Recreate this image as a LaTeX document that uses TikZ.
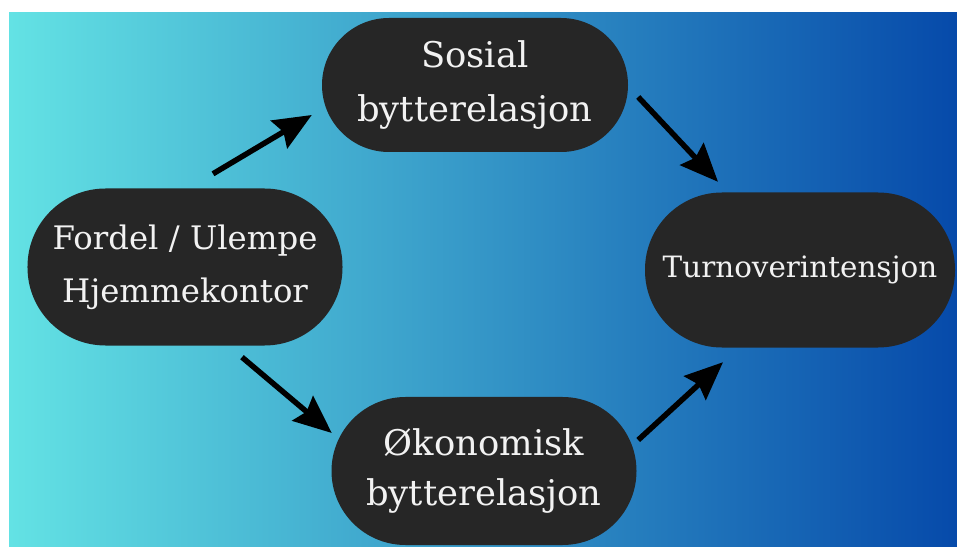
\documentclass[tikz,border=0pt]{standalone}
\usepackage{fontspec}
\setmainfont{DejaVu Serif}
\usetikzlibrary{arrows.meta}
\definecolor{bgleft}{RGB}{99,226,228}
\definecolor{bgright}{RGB}{6,74,170}
\definecolor{pillgray}{RGB}{38,38,38}
\definecolor{pilltext}{RGB}{242,242,242}
\tikzset{
  pill/.style={rectangle, fill=pillgray, text=pilltext, align=center, inner sep=0pt},
  flow/.style={line width=5.5bp, -{Stealth[length=38bp, width=32bp, inset=5bp]}}
}

\begin{document}
\begin{tikzpicture}[x=1bp, y=-1bp]
		% Background:
		\useasboundingbox (0,0) rectangle (957,547);
		\fill[white] (0,0) rectangle (957,547);
		\shade[left color=bgleft, right color=bgright] (9,13) rectangle (957,547);
		% Nodes:
		\node[pill, minimum width=315bp, minimum height=157bp, rounded corners=78bp,
		      font=\fontsize{32.5}{53}\selectfont] (lft) at (185,267) {Fordel / Ulempe\\Hjemmekontor};
		\node[pill, minimum width=306bp, minimum height=134bp, rounded corners=67bp,
		      font=\fontsize{35.5}{55}\selectfont] (top) at (475,85) {Sosial\\bytterelasjon};
		\node[pill, minimum width=310bp, minimum height=155bp, rounded corners=77bp,
		      font=\fontsize{29.5}{40}\selectfont] (rgt) at (800,270) {Turnoverintensjon};
		\node[pill, minimum width=305bp, minimum height=148bp, rounded corners=74bp,
		      font=\fontsize{35.5}{50}\selectfont] (bot) at (484,471) {Økonomisk\\bytterelasjon};
		% Arrows:
		\draw[flow] ([shift={(28,-14.5)}]lft.north) -- ([shift={(-10,30)}]top.west);
		\draw[flow] ([shift={(10,12)}]top.east) -- ([shift={(-82,-10.5)}]rgt.north);
		\draw[flow] ([shift={(57,11.5)}]lft.south) -- ([shift={(0.5,-38)}]bot.west);
		\draw[flow] ([shift={(1.5,-31)}]bot.east) -- ([shift={(-77,14.5)}]rgt.south);
	\end{tikzpicture}
\end{document}
